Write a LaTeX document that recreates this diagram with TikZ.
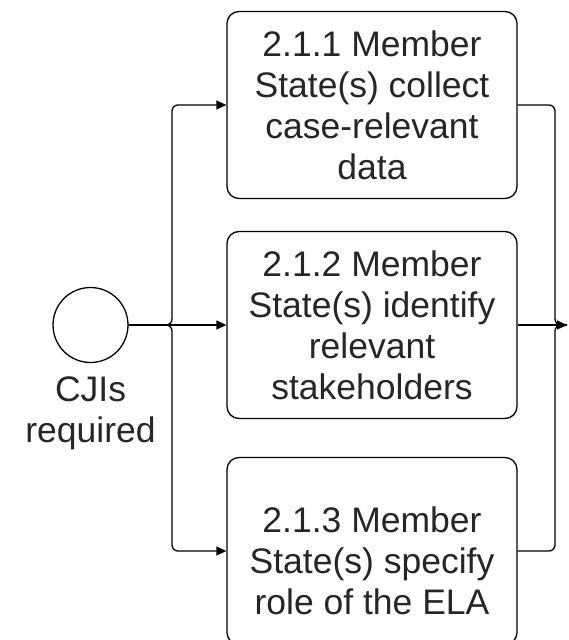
\documentclass[tikz,border=0pt]{standalone}
\usepackage{fontspec}
\setmainfont{Liberation Sans}
\usetikzlibrary{arrows.meta}
\tikzset{
	lbl/.style={align=center, text=black!85, font=\fontsize{35.5}{41}\selectfont, inner sep=0pt},
}
\begin{document}
\begin{tikzpicture}[x=1pt, y=-1pt, line width=1.3pt, >={Triangle[length=10pt,width=9pt]}]
		\useasboundingbox (0,0) rectangle (569,640);

		\begin{scope}[every node/.style={lbl, draw, rounded corners=12pt, minimum width=290pt, minimum height=187pt}]
			\node (T1) at (372,105) {2.1.1 Member\\State(s) collect\\case-relevant\\data};
			\node (T2) at (372,325) {2.1.2 Member\\State(s) identify\\relevant\\stakeholders};
			\node (T3) at (372,551) {};
		\end{scope}
		\node[lbl] (T3txt) at (372,561) {2.1.3 Member\\State(s) specify\\role of the ELA};

		\node[circle, draw, minimum size=75pt, inner sep=0pt] (start) at (90.5,325) {};
		\node[lbl] (startlbl) at (90.5,413) {CJIs\\required};

		\coordinate (split) at (172,325);
		\coordinate (join) at (555,325);
		\coordinate (out) at (567,325);

		\begin{scope}[every edge/.style={draw=black, line width=1.3pt}, rounded corners=6pt]
			\path [->] (start) edge (T2);
			\draw [->] (start.east) -- (split) |- (T1.west);
			\draw [->] (start.east) -- (split) |- (T3.west);
			\draw (T1.east) -| (join) -- (out);
			\draw (T3.east) -| (join) -- (out);
			\path [->] (T2) edge (out);
		\end{scope}
	\end{tikzpicture}
\end{document}
